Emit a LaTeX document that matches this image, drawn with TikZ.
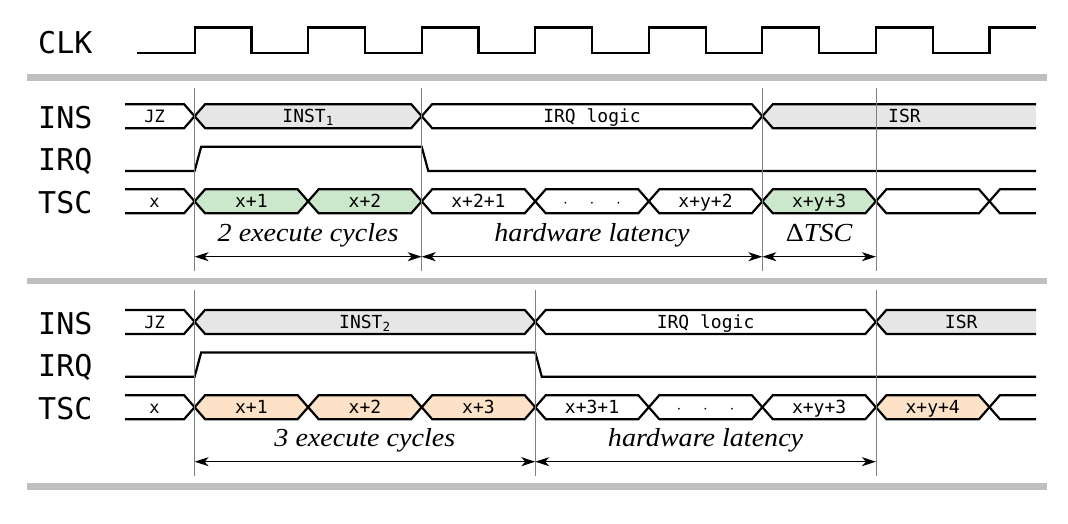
\documentclass[tikz,border=0pt]{standalone}
\usepackage{fontspec}
\newfontfamily\monof{DejaVu Sans Mono}
\newfontfamily\itf[FakeStretch=1.08]{Liberation Serif}
\usetikzlibrary{arrows.meta}
\definecolor{gfill}{RGB}{204,232,204}
\definecolor{ofill}{RGB}{253,226,200}
\definecolor{kfill}{RGB}{230,230,230}
\def\hw{10.5}
\def\hh{12}
\tikzset{
 sig/.style={line width=2.2pt, line join=miter, draw=black},
 vl/.style={line width=0.8pt, draw=black!50},
 sepbar/.style={line width=6.6pt, draw=black!25},
 dimarrow/.style={line width=1.3pt, {Stealth[length=14pt,width=9pt,inset=4pt]}-{Stealth[length=14pt,width=9pt,inset=4pt]}},
 lab/.style={font=\monof\fontsize{30}{32}\selectfont, anchor=base west, inner sep=0pt},
 btxt/.style={font=\monof\fontsize{18}{20}\selectfont, anchor=base, inner sep=0pt},
 stxt/.style={font=\monof\fontsize{17}{19}\selectfont, anchor=base, inner sep=0pt},
 itx/.style={font=\itf\fontsize{26}{30}\selectfont\itshape, anchor=base, inner sep=0pt},
}
% segment: name, x1, x2, yc, fill, text
\newcommand\tdseg[6]{%
  \filldraw[sig,fill=#5] (#2,#4) -- ({#2+\hw},{#4-\hh}) -- ({#3-\hw},{#4-\hh}) -- (#3,#4) -- ({#3-\hw},{#4+\hh}) -- ({#2+\hw},{#4+\hh}) -- cycle;
  \node[btxt] (#1) at ({(#2+#3)/2},{#4+6.5}) {#6};
}
% first open segment: name, x2, yc, text
\newcommand\tdfirst[4]{%
  \filldraw[sig,fill=white] (125,{#3-\hh}) -- ({#2-\hw},{#3-\hh}) -- (#2,#3) -- ({#2-\hw},{#3+\hh}) -- (125,{#3+\hh});
  \node[stxt] (#1) at ({(125+#2-\hw)/2},{#3+6.1}) {#4};
}
% last open segment: name, x1, yc, fill, text
\newcommand\tdlast[5]{%
  \filldraw[sig,fill=#4] (1036,{#3-\hh}) -- ({#2+\hw},{#3-\hh}) -- (#2,#3) -- ({#2+\hw},{#3+\hh}) -- (1036,{#3+\hh});
  \node[btxt] (#1) at ({(#2+\hw+1036)/2},{#3+6.5}) {#5};
}
\begin{document}
\begin{tikzpicture}[x=1pt,y=-1pt]
\useasboundingbox (0,0) rectangle (1068,524);
% clock
\node[lab] (clk) at (38,53.4) {CLK};
\draw[sig] (137,53.4) -- (194.6,53.4) -- (194.6,27.5) -- (251.4,27.5) -- (251.4,53.4)
 -- (308.15,53.4) -- (308.15,27.5) -- (364.95,27.5) -- (364.95,53.4)
 -- (421.7,53.4) -- (421.7,27.5) -- (478.5,27.5) -- (478.5,53.4)
 -- (535.25,53.4) -- (535.25,27.5) -- (592.05,27.5) -- (592.05,53.4)
 -- (648.8,53.4) -- (648.8,27.5) -- (705.6,27.5) -- (705.6,53.4)
 -- (762.35,53.4) -- (762.35,27.5) -- (819.15,27.5) -- (819.15,53.4)
 -- (875.9,53.4) -- (875.9,27.5) -- (932.7,27.5) -- (932.7,53.4)
 -- (989.45,53.4) -- (989.45,27.5) -- (1036,27.5);
% separator bars
\draw[sepbar] (27,77.5) -- (1047,77.5);
\draw[sepbar] (27,281) -- (1047,281);
\draw[sepbar] (27,486.5) -- (1047,486.5);

% ---------- panel 1 ----------
\node[lab] (ins1) at (38,128.3) {INS};
\node[lab] (irq1) at (38,171) {IRQ};
\node[lab] (tsc1) at (38,213.3) {TSC};
\tdfirst{a1}{194.6}{116.2}{JZ}
\tdseg{a2}{194.6}{421.7}{116.2}{kfill}{INST\textsubscript{1}}
\tdseg{a3}{421.7}{762.35}{116.2}{white}{IRQ logic}
\tdlast{a4}{762.35}{116.2}{kfill}{ISR}
\draw[sig] (125,171) -- (194.6,171) -- (201.2,146.7) -- (421.7,146.7) -- (428.3,171) -- (1036,171);
\tdfirst{b1}{194.6}{201.3}{x}
\tdseg{b2}{194.6}{308.15}{201.3}{gfill}{x+1}
\tdseg{b3}{308.15}{421.7}{201.3}{gfill}{x+2}
\tdseg{b4}{421.7}{535.25}{201.3}{white}{x+2+1}
\tdseg{b5}{535.25}{648.8}{201.3}{white}{$\cdot$\ \ $\cdot$\ \ $\cdot$}
\tdseg{b6}{648.8}{762.35}{201.3}{white}{x+y+2}
\tdseg{b7}{762.35}{875.9}{201.3}{gfill}{x+y+3}
\tdseg{b8}{875.9}{989.45}{201.3}{white}{}
\tdlast{b9}{989.45}{201.3}{white}{}
\node[itx] (t1) at (308.15,241) {2 execute cycles};
\node[itx] (t2) at (592,241) {hardware latency};
\node[itx] (t3) at (819.1,241) {{\upshape Δ}TSC};
\foreach \n/\x in {p/194.6,q/421.7,r/762.35,s/875.9}{
  \coordinate (\n1top) at (\x,88);
  \coordinate (\n1bot) at (\x,271);
  \coordinate (\n1arr) at (\x,256.7);
  \draw[vl] (\n1top) -- (\n1bot);
}
\draw[dimarrow] (p1arr) -- (q1arr);
\draw[dimarrow] (q1arr) -- (r1arr);
\draw[dimarrow] (r1arr) -- (s1arr);

% ---------- panel 2 ----------
\node[lab] (ins2) at (38,334) {INS};
\node[lab] (irq2) at (38,376.7) {IRQ};
\node[lab] (tsc2) at (38,419.2) {TSC};
\tdfirst{c1}{194.6}{321.9}{JZ}
\tdseg{c2}{194.6}{535.25}{321.9}{kfill}{INST\textsubscript{2}}
\tdseg{c3}{535.25}{875.9}{321.9}{white}{IRQ logic}
\tdlast{c4}{875.9}{321.9}{kfill}{ISR}
\draw[sig] (125,376.7) -- (194.6,376.7) -- (201.2,352.4) -- (535.25,352.4) -- (541.8,376.7) -- (1036,376.7);
\tdfirst{d1}{194.6}{407.2}{x}
\tdseg{d2}{194.6}{308.15}{407.2}{ofill}{x+1}
\tdseg{d3}{308.15}{421.7}{407.2}{ofill}{x+2}
\tdseg{d4}{421.7}{535.25}{407.2}{ofill}{x+3}
\tdseg{d5}{535.25}{648.8}{407.2}{white}{x+3+1}
\tdseg{d6}{648.8}{762.35}{407.2}{white}{$\cdot$\ \ $\cdot$\ \ $\cdot$}
\tdseg{d7}{762.35}{875.9}{407.2}{white}{x+y+3}
\tdseg{d8}{875.9}{989.45}{407.2}{ofill}{x+y+4}
\tdlast{d9}{989.45}{407.2}{white}{}
\node[itx] (u1) at (364.9,446) {3 execute cycles};
\node[itx] (u2) at (705.6,446) {hardware latency};
\foreach \n/\x in {p/194.6,q/535.25,r/875.9}{
  \coordinate (\n2top) at (\x,290);
  \coordinate (\n2bot) at (\x,476);
  \coordinate (\n2arr) at (\x,461.7);
  \draw[vl] (\n2top) -- (\n2bot);
}
\draw[dimarrow] (p2arr) -- (q2arr);
\draw[dimarrow] (q2arr) -- (r2arr);
\end{tikzpicture}
\end{document}
